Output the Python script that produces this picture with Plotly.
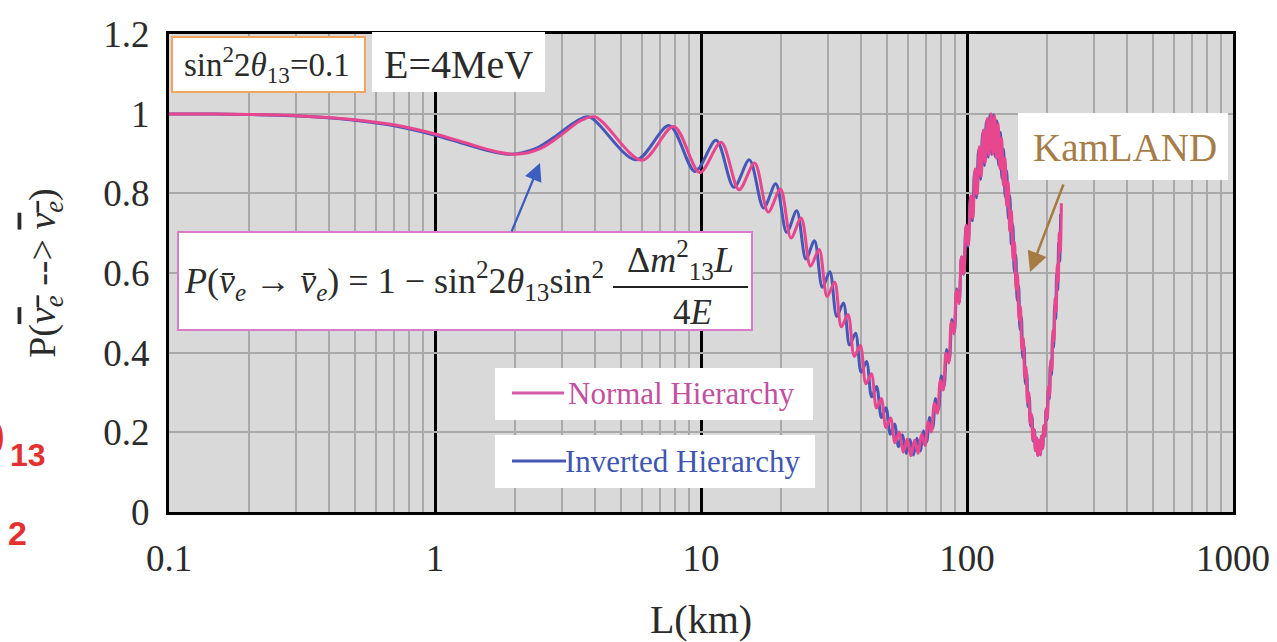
import plotly.graph_objects as go

# ---------------- data ----------------
# Normal hierarchy: distance L (km) and survival probability
L_nh = [0.1, 0.15, 0.2, 0.3, 0.5, 0.7, 1.0, 1.3, 1.6, 2.0, 2.5, 3.0, 3.5, 4.0,
        6.0, 7.9, 9.9, 11.9, 13.9, 15.9, 17.9, 19.9, 21.8, 23.8,
        25.8, 27.8, 29.8, 31.8, 33.7, 35.7, 37.7, 39.7, 41.7, 43.7,
        45.7, 47.6, 49.6, 51.6, 53.6, 55.6, 57.6, 59.6, 61.5, 63.5,
        65.5, 67.5, 69.5, 71.5, 73.4, 75.4, 77.4, 79.4, 81.4, 83.4,
        85.4, 87.3, 89.3, 91.3, 93.3, 95.3, 97.3, 99.3, 101.2, 103.2,
        105.2, 107.2, 109.2, 111.2, 113.1, 115.1, 117.1, 119.1, 121.1, 123.1,
        125.1, 127.0, 129.0, 131.0, 133.0, 135.0, 137.0, 139.0, 140.9, 142.9,
        144.9, 146.9, 148.9, 150.9, 152.8, 154.8, 156.8, 158.8, 160.8, 162.8,
        164.8, 166.7, 168.7, 170.7, 172.7, 174.7, 176.7, 178.7, 180.6, 182.6,
        184.6, 186.6, 188.6, 190.6, 192.5, 194.5, 196.5, 198.5, 200.5, 202.5,
        204.5, 206.4, 208.4, 210.4, 212.4, 214.4, 216.4, 218.4, 220.3, 222.3,
        224.3, 226.3]
P_nh = [0.999, 0.999, 0.998, 0.995, 0.985, 0.972, 0.949, 0.927, 0.909, 0.898, 0.913, 0.948, 0.981, 0.992,
        0.883, 0.968, 0.852, 0.928, 0.809, 0.876, 0.753, 0.811, 0.688, 0.738,
        0.617, 0.659, 0.541, 0.577, 0.465, 0.496, 0.391, 0.418, 0.322, 0.347,
        0.261, 0.285, 0.212, 0.236, 0.174, 0.201, 0.150, 0.183, 0.141, 0.180,
        0.147, 0.195, 0.167, 0.226, 0.201, 0.273, 0.248, 0.331, 0.306, 0.399,
        0.374, 0.477, 0.447, 0.557, 0.523, 0.640, 0.599, 0.720, 0.671, 0.794,
        0.738, 0.861, 0.797, 0.917, 0.843, 0.959, 0.877, 0.988, 0.896, 1.000,
        0.899, 0.995, 0.888, 0.975, 0.861, 0.939, 0.820, 0.889, 0.768, 0.828,
        0.705, 0.757, 0.634, 0.678, 0.560, 0.598, 0.483, 0.516, 0.408, 0.436,
        0.338, 0.364, 0.276, 0.300, 0.223, 0.246, 0.182, 0.208, 0.155, 0.186,
        0.142, 0.179, 0.144, 0.190, 0.160, 0.217, 0.192, 0.260, 0.236, 0.316,
        0.292, 0.381, 0.355, 0.457, 0.429, 0.538, 0.504, 0.621, 0.580, 0.701,
        0.654, 0.775]

# Inverted hierarchy
L_ih = [0.1, 0.15, 0.19, 0.29, 0.48, 0.67, 0.96, 1.25, 1.54, 1.9, 2.4, 2.9, 3.4, 3.8,
        5.7, 7.6, 9.5, 11.4, 13.3, 15.2, 17.2, 19.1, 21.0, 22.9,
        24.8, 26.7, 28.6, 30.5, 32.4, 34.3, 36.2, 38.1, 40.0, 41.9,
        43.8, 45.7, 47.7, 49.6, 51.5, 53.4, 55.3, 57.2, 59.1, 61.0,
        62.9, 64.8, 66.7, 68.6, 70.5, 72.4, 74.3, 76.2, 78.1, 80.1,
        82.0, 83.9, 85.8, 87.7, 89.6, 91.5, 93.4, 95.3, 97.2, 99.1,
        101.0, 102.9, 104.8, 106.7, 108.6, 110.5, 112.5, 114.4, 116.3, 118.2,
        120.1, 122.0, 123.9, 125.8, 127.7, 129.6, 131.5, 133.4, 135.3, 137.2,
        139.1, 141.0, 143.0, 144.9, 146.8, 148.7, 150.6, 152.5, 154.4, 156.3,
        158.2, 160.1, 162.0, 163.9, 165.8, 167.7, 169.6, 171.5, 173.4, 175.4,
        177.3, 179.2, 181.1, 183.0, 184.9, 186.8, 188.7, 190.6, 192.5, 194.4,
        196.3, 198.2, 200.1, 202.0, 203.9, 205.8, 207.8, 209.7, 211.6, 213.5,
        215.4, 217.3, 219.2, 221.1, 223.0, 224.9]
P_ih = [0.999, 0.999, 0.998, 0.995, 0.985, 0.972, 0.949, 0.927, 0.909, 0.898, 0.913, 0.948, 0.981, 0.992,
        0.884, 0.970, 0.855, 0.933, 0.815, 0.884, 0.763, 0.824, 0.702, 0.756,
        0.635, 0.681, 0.564, 0.603, 0.491, 0.525, 0.419, 0.449, 0.351, 0.378,
        0.289, 0.315, 0.237, 0.262, 0.195, 0.221, 0.164, 0.194, 0.147, 0.182,
        0.143, 0.185, 0.153, 0.204, 0.176, 0.237, 0.211, 0.285, 0.258, 0.342,
        0.316, 0.408, 0.381, 0.483, 0.452, 0.560, 0.525, 0.640, 0.597, 0.717,
        0.667, 0.788, 0.731, 0.853, 0.789, 0.908, 0.835, 0.951, 0.870, 0.981,
        0.891, 0.997, 0.898, 0.997, 0.892, 0.982, 0.871, 0.953, 0.837, 0.911,
        0.792, 0.857, 0.737, 0.794, 0.672, 0.722, 0.603, 0.646, 0.531, 0.568,
        0.458, 0.490, 0.387, 0.416, 0.322, 0.349, 0.264, 0.289, 0.216, 0.240,
        0.178, 0.205, 0.154, 0.185, 0.142, 0.179, 0.144, 0.190, 0.160, 0.216,
        0.190, 0.257, 0.232, 0.309, 0.284, 0.371, 0.344, 0.442, 0.413, 0.519,
        0.485, 0.598, 0.557, 0.675, 0.629, 0.748]

series_names = ["Normal Hierarchy", "Inverted Hierarchy"]
x_range_log = [-1, 3]
y_range = [0, 1.2]

# ---------------- style ----------------
W, H = 1277, 642
L0, R0, T0, B0 = 169, 1233, 34, 512      # plot area in pixels


def px(x):
    return (x - L0) / (R0 - L0)


def py(y):
    return (B0 - y) / (B0 - T0)


SERIF = "Liberation Serif, Times New Roman, serif"
SANS = "Liberation Sans, Arial, sans-serif"
PINK = "#E8468E"
BLUE = "#4757B5"
TXT = "#2b2b2b"

fig = go.Figure()
fig.add_trace(go.Scatter(x=L_ih, y=P_ih, mode="lines", name=series_names[1],
                         line=dict(color=BLUE, width=3, shape="spline", smoothing=0.9),
                         showlegend=False))
fig.add_trace(go.Scatter(x=L_nh, y=P_nh, mode="lines", name=series_names[0],
                         line=dict(color=PINK, width=3, shape="spline", smoothing=0.9),
                         showlegend=False))


def rect(x0, y0, x1, y1, fill="white", lc=None, lw=0):
    return dict(type="rect", xref="paper", yref="paper",
                x0=px(x0), x1=px(x1), y0=py(y1), y1=py(y0),
                fillcolor=fill, line=dict(color=lc or fill, width=lw), layer="above")


def hline(x0, x1, y, color, w):
    return dict(type="line", xref="paper", yref="paper",
                x0=px(x0), x1=px(x1), y0=py(y), y1=py(y),
                line=dict(color=color, width=w), layer="above")


shapes = [
    rect(172, 37, 365, 92, "white", "#F2A55C", 2),          # sin^2 box
    rect(372, 32, 545, 92, "white"),                        # E box
    rect(178, 232, 752, 330, "white", "#D77CC9", 2),        # formula box
    hline(613, 748, 287, "#222222", 2),                     # fraction bar
    rect(495, 368, 813, 420, "white"),                      # legend NH
    hline(512, 564, 393, "#D35CA8", 3),
    rect(495, 435, 815, 488, "white"),                      # legend IH
    hline(512, 566, 461, "#4658B4", 3),
    rect(1018, 113, 1228, 180, "white"),                    # KamLAND box
]


def ann(text, x, y, size, color=TXT, xanchor="center", family=SERIF):
    return dict(text=text, xref="paper", yref="paper", x=px(x), y=py(y),
                xanchor=xanchor, yanchor="middle", showarrow=False,
                font=dict(family=family, size=size, color=color))


vbar = "v\u0304"
annotations = [
    ann("sin<sup>2</sup>2<i>θ</i><sub>13</sub>=0.1", 267, 64, 33),
    ann("E=4MeV", 458, 64, 40),
    ann("<i>P</i>(<i>" + vbar + "</i><sub><i>e</i></sub> → <i>" + vbar +
        "</i><sub><i>e</i></sub>) = 1 − sin<sup>2</sup>2<i>θ</i><sub>13</sub>sin<sup>2</sup>",
        182, 281, 36, xanchor="left"),
    ann("Δ<i>m</i><sup>2</sup><sub>13</sub><i>L</i>", 680, 260, 36),
    ann("4<i>E</i>", 692, 312, 35),
    ann("KamLAND", 1125, 147, 39, color="#A67C48"),
    ann(series_names[0], 566, 393, 31, color="#C24FA0", xanchor="left"),
    ann(series_names[1], 563, 461, 31, color="#3F55B2", xanchor="left"),
    # cropped red fragments at the far left
    ann("<b>θ</b>", 7, 438, 44, color="#E4312F", xanchor="right", family=SANS),
    ann("<b>13</b>", 28, 455, 32, color="#E4312F", family=SANS),
    ann("<b>2</b>", 17, 533, 34, color="#E4312F", family=SANS),
    # arrows
    dict(text="", xref="paper", yref="paper", x=px(540), y=py(163), ax=-29, ay=70,
         showarrow=True, arrowhead=2, arrowsize=1.6, arrowwidth=2.2, arrowcolor="#3C5EC0"),
    dict(text="", xref="paper", yref="paper", x=px(1030), y=py(272), ax=34, ay=-89,
         showarrow=True, arrowhead=2, arrowsize=1.6, arrowwidth=2.5, arrowcolor="#A57B43"),
]

ov = '<span style="text-decoration:overline"><i>ν<sub>e</sub></i></span>'
ytitle = "P(" + ov + " --> " + ov + ")"

fig.update_layout(
    width=W, height=H,
    margin=dict(l=L0, r=W - R0, t=T0, b=H - B0, autoexpand=False),
    paper_bgcolor="white", plot_bgcolor="#D9D9D9",
    shapes=shapes, annotations=annotations,
    xaxis=dict(type="log", range=x_range_log, dtick=1, tick0=0, exponentformat="none",
               showgrid=True, gridcolor="black", gridwidth=3,
               minor=dict(dtick="D1", showgrid=True, gridcolor="#A9A9A9", gridwidth=1.5, ticks=""),
               showline=True, linecolor="black", linewidth=3, mirror=True,
               ticks="", zeroline=False, automargin=False,
               tickfont=dict(family=SERIF, size=37, color=TXT), ticklabelstandoff=12,
               title=dict(text="L(km)", font=dict(family=SERIF, size=40, color=TXT), standoff=31)),
    yaxis=dict(range=y_range, dtick=0.2, showgrid=True, gridcolor="#A9A9A9", gridwidth=1.5,
               showline=True, linecolor="black", linewidth=3, mirror=True,
               ticks="", zeroline=False, automargin=False,
               tickfont=dict(family=SERIF, size=37, color=TXT), ticklabelstandoff=9,
               title=dict(text=ytitle, font=dict(family=SERIF, size=38, color=TXT), standoff=37)),
)

fig.write_html("out.html", config={"displayModeBar": False},
               post_script="document.body.style.margin='0px';")
